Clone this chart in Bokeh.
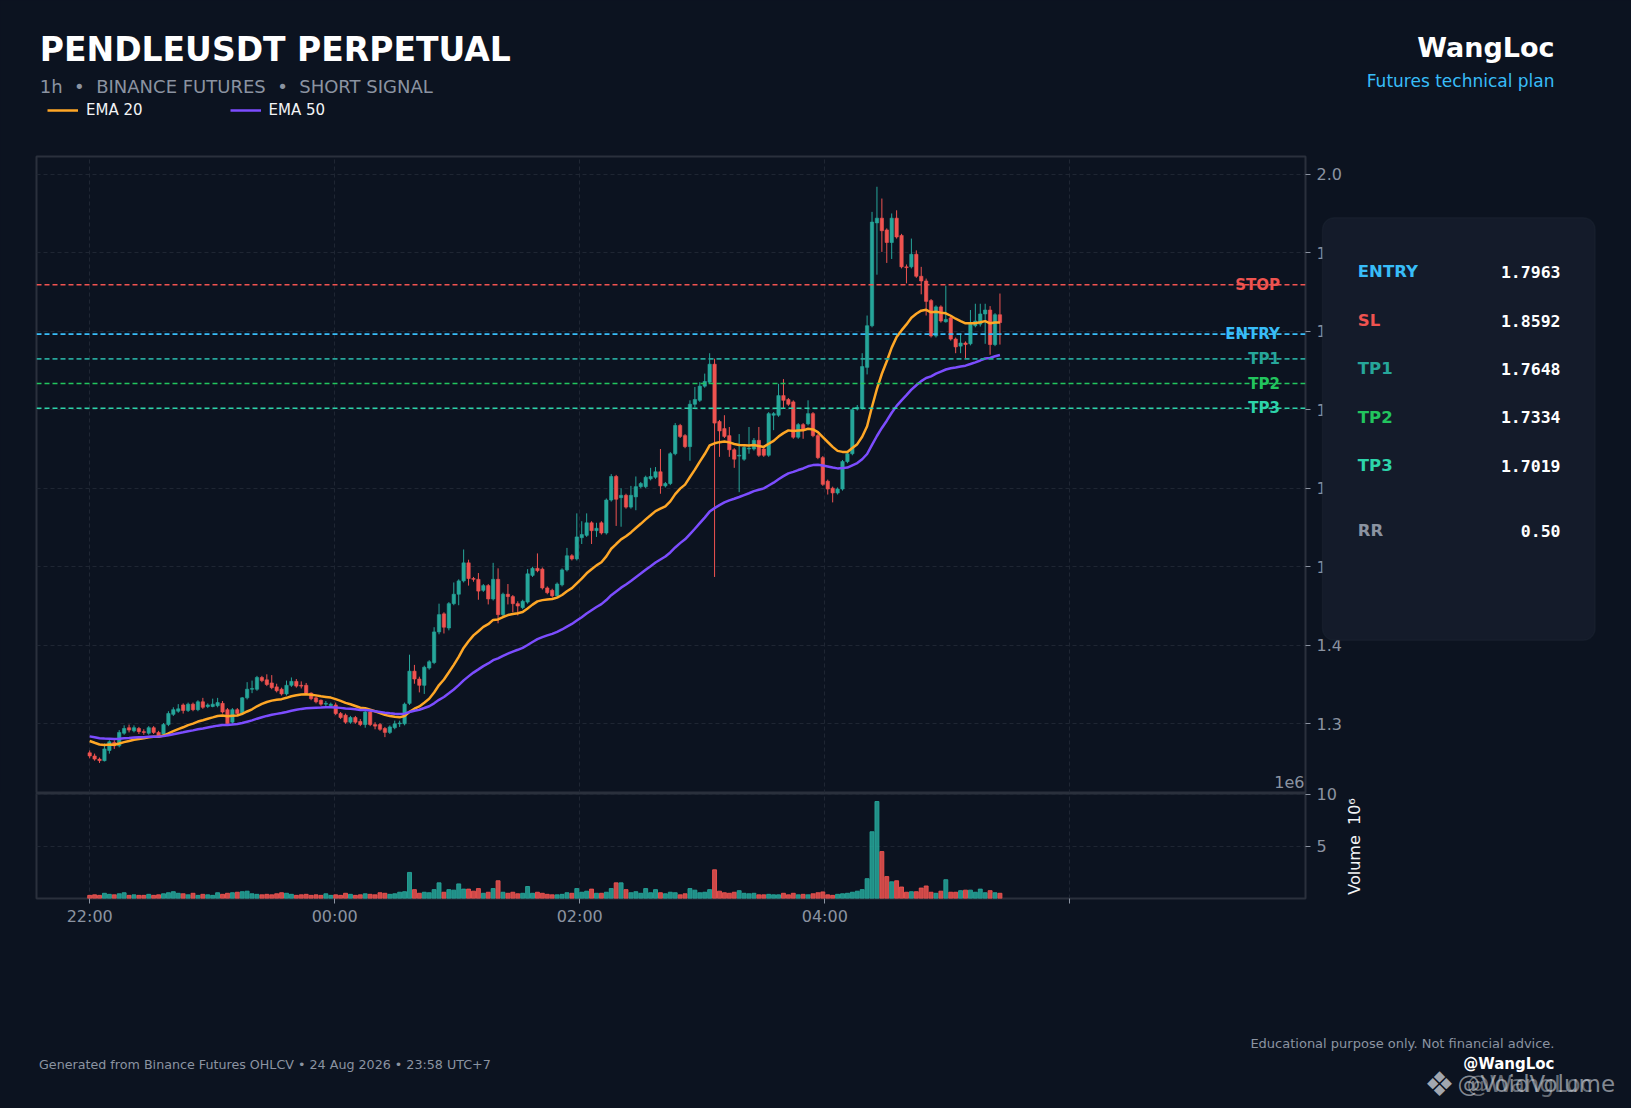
import numpy as np
from bokeh.plotting import figure
from bokeh.models import (ColumnDataSource, Range1d, FixedTicker, PrintfTickFormatter,
                          Span, Label, BoxAnnotation, Grid, Legend, LegendItem)
from bokeh.layouts import column
from bokeh.embed import file_html
from bokeh.resources import INLINE

# ---------------- data ----------------
open_ = [
    1.263,1.259,1.255,1.253,1.266,1.276,1.272,1.288,1.295,1.291,
    1.294,1.290,1.288,1.295,1.289,1.287,1.299,1.312,1.316,1.324,
    1.317,1.325,1.318,1.328,1.322,1.322,1.323,1.326,1.318,1.302,
    1.318,1.313,1.333,1.344,1.344,1.359,1.356,1.352,1.347,1.344,
    1.338,1.349,1.354,1.349,1.349,1.339,1.333,1.330,1.325,1.323,
    1.324,1.313,1.311,1.302,1.308,1.303,1.299,1.315,1.299,1.299,
    1.294,1.289,1.295,1.300,1.300,1.326,1.367,1.357,1.349,1.371,
    1.378,1.417,1.440,1.422,1.453,1.465,1.482,1.505,1.485,1.484,
    1.470,1.476,1.459,1.484,1.439,1.465,1.462,1.453,1.448,1.455,
    1.489,1.498,1.497,1.473,1.470,1.463,1.477,1.496,1.514,1.510,
    1.537,1.540,1.556,1.546,1.556,1.543,1.585,1.615,1.588,1.591,
    1.576,1.589,1.602,1.602,1.612,1.614,1.621,1.603,1.606,1.644,
    1.680,1.667,1.653,1.707,1.712,1.730,1.735,1.758,1.685,1.676,
    1.667,1.649,1.641,1.637,1.650,1.650,1.661,1.650,1.642,1.693,
    1.693,1.718,1.713,1.710,1.665,1.681,1.682,1.695,1.667,1.639,
    1.609,1.600,1.594,1.599,1.634,1.644,1.701,1.702,1.754,1.807,
    1.938,1.944,1.929,1.913,1.944,1.922,1.882,1.882,1.898,1.870,
    1.864,1.839,1.794,1.831,1.812,1.817,1.790,1.781,1.785,1.784,
    1.807,1.809,1.822,1.827,1.783,1.821]
high = [
    1.266,1.262,1.257,1.275,1.279,1.279,1.292,1.298,1.299,1.298,
    1.296,1.293,1.297,1.297,1.291,1.301,1.316,1.321,1.325,1.326,
    1.327,1.327,1.330,1.333,1.326,1.332,1.333,1.329,1.320,1.320,
    1.320,1.334,1.353,1.355,1.361,1.361,1.363,1.362,1.351,1.346,
    1.355,1.359,1.357,1.354,1.352,1.340,1.335,1.331,1.329,1.327,
    1.327,1.315,1.313,1.310,1.310,1.306,1.317,1.317,1.302,1.301,
    1.296,1.298,1.304,1.304,1.327,1.388,1.375,1.360,1.374,1.381,
    1.423,1.453,1.442,1.455,1.480,1.484,1.522,1.509,1.487,1.492,
    1.478,1.478,1.505,1.498,1.467,1.478,1.464,1.456,1.458,1.497,
    1.500,1.517,1.499,1.475,1.472,1.480,1.498,1.524,1.516,1.568,
    1.558,1.568,1.558,1.556,1.558,1.587,1.618,1.617,1.600,1.593,
    1.603,1.615,1.608,1.616,1.626,1.627,1.650,1.608,1.646,1.683,
    1.682,1.669,1.712,1.729,1.735,1.746,1.772,1.765,1.687,1.693,
    1.678,1.651,1.669,1.655,1.678,1.664,1.678,1.652,1.697,1.697,
    1.733,1.739,1.715,1.712,1.683,1.683,1.712,1.697,1.669,1.641,
    1.611,1.602,1.601,1.636,1.646,1.702,1.706,1.772,1.820,1.952,
    1.984,1.969,1.931,1.950,1.954,1.924,1.885,1.918,1.903,1.882,
    1.867,1.841,1.833,1.833,1.858,1.819,1.792,1.797,1.787,1.827,
    1.835,1.835,1.835,1.832,1.823,1.848]
low = [
    1.256,1.253,1.250,1.252,1.262,1.268,1.270,1.286,1.289,1.289,
    1.287,1.286,1.286,1.287,1.283,1.285,1.297,1.310,1.314,1.313,
    1.315,1.316,1.316,1.319,1.320,1.321,1.321,1.313,1.298,1.300,
    1.311,1.311,1.331,1.339,1.342,1.353,1.348,1.344,1.340,1.336,
    1.336,1.347,1.346,1.345,1.337,1.330,1.326,1.323,1.322,1.321,
    1.311,1.306,1.300,1.300,1.300,1.297,1.295,1.297,1.293,1.291,
    1.283,1.287,1.293,1.296,1.298,1.324,1.351,1.340,1.338,1.369,
    1.376,1.414,1.415,1.419,1.451,1.451,1.480,1.476,1.481,1.458,
    1.468,1.452,1.457,1.428,1.437,1.452,1.442,1.438,1.446,1.453,
    1.487,1.493,1.471,1.465,1.461,1.461,1.475,1.494,1.508,1.508,
    1.529,1.538,1.529,1.538,1.541,1.541,1.583,1.552,1.551,1.574,
    1.574,1.572,1.600,1.600,1.610,1.612,1.593,1.601,1.604,1.642,
    1.664,1.651,1.635,1.703,1.710,1.728,1.733,1.487,1.640,1.664,
    1.640,1.626,1.595,1.635,1.644,1.648,1.640,1.640,1.640,1.674,
    1.691,1.702,1.705,1.663,1.663,1.663,1.680,1.665,1.637,1.603,
    1.592,1.582,1.592,1.597,1.632,1.642,1.699,1.700,1.745,1.805,
    1.872,1.901,1.887,1.892,1.918,1.880,1.861,1.880,1.868,1.847,
    1.820,1.792,1.792,1.811,1.811,1.788,1.772,1.772,1.765,1.782,
    1.805,1.806,1.784,1.770,1.781,1.783]
close = [
    1.259,1.255,1.253,1.268,1.277,1.272,1.289,1.294,1.292,1.295,
    1.290,1.289,1.295,1.289,1.285,1.299,1.313,1.318,1.319,1.317,
    1.325,1.318,1.328,1.321,1.324,1.325,1.327,1.315,1.300,1.318,
    1.313,1.333,1.344,1.345,1.359,1.355,1.350,1.346,1.342,1.338,
    1.349,1.354,1.348,1.348,1.339,1.332,1.328,1.325,1.326,1.325,
    1.313,1.308,1.302,1.308,1.302,1.299,1.315,1.299,1.297,1.293,
    1.289,1.296,1.300,1.301,1.325,1.367,1.357,1.349,1.372,1.379,
    1.417,1.439,1.423,1.453,1.465,1.482,1.505,1.485,1.484,1.469,
    1.476,1.459,1.484,1.439,1.465,1.462,1.453,1.450,1.456,1.491,
    1.498,1.495,1.473,1.467,1.463,1.478,1.496,1.514,1.510,1.538,
    1.541,1.556,1.546,1.549,1.543,1.585,1.615,1.586,1.591,1.576,
    1.591,1.602,1.606,1.614,1.615,1.621,1.603,1.606,1.644,1.680,
    1.666,1.653,1.707,1.713,1.730,1.736,1.758,1.683,1.673,1.666,
    1.649,1.637,1.642,1.652,1.651,1.661,1.642,1.642,1.695,1.695,
    1.718,1.712,1.707,1.665,1.681,1.675,1.695,1.667,1.639,1.605,
    1.599,1.594,1.599,1.634,1.644,1.700,1.703,1.755,1.807,1.939,
    1.944,1.928,1.913,1.944,1.920,1.882,1.881,1.898,1.870,1.864,
    1.838,1.794,1.831,1.813,1.815,1.790,1.780,1.785,1.783,1.809,
    1.813,1.822,1.827,1.783,1.821,1.811]
volume_m = [
    0.30,0.35,0.30,0.50,0.40,0.35,0.45,0.55,0.30,0.35,
    0.30,0.30,0.40,0.30,0.35,0.45,0.55,0.65,0.50,0.45,
    0.35,0.50,0.30,0.40,0.35,0.30,0.55,0.40,0.50,0.55,
    0.60,0.65,0.70,0.45,0.40,0.35,0.40,0.35,0.45,0.55,
    0.50,0.40,0.30,0.35,0.40,0.30,0.35,0.30,0.45,0.30,
    0.35,0.30,0.50,0.40,0.30,0.35,0.45,0.40,0.35,0.55,
    0.50,0.40,0.45,0.60,0.65,2.50,0.85,0.50,0.60,0.55,
    0.85,1.50,0.60,0.85,0.80,1.40,0.90,0.90,0.70,0.95,
    0.50,0.60,0.95,1.70,0.60,0.50,0.60,0.45,0.50,1.15,
    0.50,0.60,0.50,0.40,0.35,0.35,0.40,0.55,0.50,0.95,
    0.60,0.70,0.90,0.50,0.50,0.60,0.95,1.50,1.50,0.85,
    0.55,0.65,0.50,0.95,0.55,0.85,0.55,0.45,0.60,0.55,
    0.35,0.45,0.95,0.80,0.55,0.60,0.85,2.75,0.70,0.55,
    0.50,0.60,0.75,0.50,0.45,0.50,0.35,0.35,0.40,0.35,
    0.35,0.50,0.35,0.50,0.35,0.40,0.35,0.45,0.55,0.63,
    0.35,0.30,0.40,0.45,0.50,0.60,0.70,0.85,1.90,6.40,
    9.30,4.50,2.10,1.60,1.70,1.10,0.60,0.65,0.65,1.00,
    1.20,0.60,0.50,0.70,1.80,0.60,0.60,0.75,0.80,0.80,
    0.60,0.90,0.55,0.75,0.55,0.50]

ema20_seed = 1.280   # EMA values just before the first visible candle
ema50_seed = 1.285

time_ticks = [0, 49.8, 99.6, 149.4, 199.2]
time_labels = ["22:00", "00:00", "02:00", "04:00", ""]
price_ticks = [1.3, 1.4, 1.5, 1.6, 1.7, 1.8, 1.9, 2.0]
vol_ticks = [5, 10]

line_names = ["STOP", "ENTRY", "TP1", "TP2", "TP3"]
line_values = [1.8592, 1.7963, 1.7648, 1.7334, 1.7019]
panel_names = ["ENTRY", "SL", "TP1", "TP2", "TP3"]
panel_values = [1.7963, 1.8592, 1.7648, 1.7334, 1.7019]
rr_value = 0.50
legend_labels = ["EMA 20", "EMA 50"]

NB = "\u00a0"
symbol = "PENDLEUSDT PERPETUAL"
subtitle = f"1h{NB} \u2022 {NB}BINANCE FUTURES{NB} \u2022 {NB}SHORT SIGNAL"
vol_label = f"Volume{NB} 10\u2076"

# ---------------- styles ----------------
BG = "#0c1320"
FRAME = "#2a303c"
GRID = "#1f2633"
GRAY = "#8b93a1"
WHITE = "#f3f4f6"
UP = "#26a69a"
DOWN = "#ef5350"
EMA20C = "#ffa726"
EMA50C = "#7c4dff"
FONT = "DejaVu Sans"
MONO = "DejaVu Sans Mono"
LINE_COLORS = {"STOP": "#ef5350", "SL": "#ef5350", "ENTRY": "#38bdf8",
               "TP1": "#26a69a", "TP2": "#22c55e", "TP3": "#2dd4aa"}

n = min(len(open_), len(high), len(low), len(close), len(volume_m))
o = np.array(open_[:n]); c = np.array(close[:n])
idx = np.arange(n)
colors = [UP if c[i] >= o[i] else DOWN for i in range(n)]


def ema(vals, span, seed):
    a = 2.0 / (span + 1)
    out, prev = [], seed
    for val in vals:
        prev = prev + a * (val - prev)
        out.append(prev)
    return out


ema20 = ema(c, 20, ema20_seed)
ema50 = ema(c, 50, ema50_seed)

src = ColumnDataSource(dict(x=idx, high=high[:n], low=low[:n], top=np.maximum(o, c),
                            bottom=np.minimum(o, c), color=colors, vol=volume_m[:n]))

W, H = 1631, 1108
XR = Range1d(-10.81, 247.1)


def style_axis(ax):
    ax.axis_line_color = None
    ax.major_tick_line_color = GRAY
    ax.major_tick_out = 5
    ax.major_tick_in = 0
    ax.minor_tick_line_color = None
    ax.major_label_text_color = GRAY
    ax.major_label_text_font = FONT
    ax.major_label_text_font_size = "16px"


# ---------------- price figure ----------------
p = figure(width=W, height=793, x_range=XR, y_range=Range1d(1.2112, 2.02255),
           x_axis_location=None, y_axis_location="right",
           output_backend="svg", toolbar_location=None,
           min_border_left=36, min_border_right=326, min_border_top=156, min_border_bottom=0,
           background_fill_color=BG, border_fill_color=BG,
           outline_line_color=FRAME, outline_line_width=2)
p.yaxis.ticker = FixedTicker(ticks=price_ticks)
p.yaxis.formatter = PrintfTickFormatter(format="%.1f")
style_axis(p.yaxis)
p.yaxis.major_label_standoff = 6
p.ygrid.grid_line_color = GRID
p.ygrid.grid_line_dash = "4 3"
p.xgrid.visible = False
p.add_layout(Grid(dimension=0, ticker=FixedTicker(ticks=time_ticks),
                  grid_line_color=GRID, grid_line_dash="4 3"))

p.segment(x0="x", y0="low", x1="x", y1="high", line_color="color", line_width=1, source=src)
p.vbar(x="x", width=0.68, top="top", bottom="bottom", fill_color="color",
       line_color="color", line_width=0.6, source=src)
p.line(idx, ema20, line_color=EMA20C, line_width=2.5)
p.line(idx, ema50, line_color=EMA50C, line_width=2.5)

for name, val in zip(line_names, line_values):
    col = LINE_COLORS[name]
    p.add_layout(Span(location=val, dimension="width", line_color=col,
                      line_dash="5 3", line_width=1.6))
    p.add_layout(Label(x=241.9, y=val, text=name, text_align="right", text_baseline="middle",
                       text_font=FONT, text_font_style="bold", text_font_size="15px",
                       text_color=col))

# ---------------- volume figure ----------------
v = figure(width=W, height=327, x_range=XR, y_range=Range1d(0, 10.07),
           y_axis_location="right", output_backend="svg", toolbar_location=None,
           min_border_left=36, min_border_right=326, min_border_top=12, min_border_bottom=210,
           background_fill_color=BG, border_fill_color=BG, border_fill_alpha=0,
           outline_line_color=FRAME, outline_line_width=2, margin=(-12, 0, 0, 0))
v.vbar(x="x", width=0.8, top="vol", bottom=0, fill_color="color", line_color="color",
       fill_alpha=0.85, line_alpha=0.9, source=src)
v.xaxis.ticker = FixedTicker(ticks=time_ticks)
v.xaxis.major_label_overrides = dict(zip(time_ticks, time_labels))
style_axis(v.xaxis)
v.xaxis.major_label_standoff = 3
v.yaxis.ticker = FixedTicker(ticks=vol_ticks)
v.yaxis.formatter = PrintfTickFormatter(format="%d")
style_axis(v.yaxis)
v.yaxis.major_label_standoff = 6
for g in (v.xgrid, v.ygrid):
    g.grid_line_color = GRID
    g.grid_line_dash = "4 3"

# ---------------- transparent overlay for page texts and the info card ----------------
ov = figure(width=W, height=H, x_range=Range1d(0, W), y_range=Range1d(H, 0),
            x_axis_location=None, y_axis_location=None,
            output_backend="svg", toolbar_location=None,
            min_border=0, min_border_left=0, min_border_right=0, min_border_top=0,
            min_border_bottom=0, outline_line_color=None,
            background_fill_alpha=0, border_fill_alpha=0, margin=(-H, 0, 0, 0))
if "frame_align" in ov.properties():
    ov.frame_align = False
ov.grid.visible = False


def lab(x, y, text, size, color, bold=False, align="left", baseline="middle",
        font=FONT, angle=0.0, alpha=1.0):
    ov.add_layout(Label(x=x, y=y, text=text, text_font=font, text_font_size=f"{size}px",
                        text_color=color, text_font_style="bold" if bold else "normal",
                        text_align=align, text_baseline=baseline, angle=angle,
                        text_alpha=alpha))


# header
lab(39.3, 48.5, symbol, 33, "#ffffff", bold=True)
lab(39.3, 86, subtitle, 18, GRAY)
lab(1554, 47, "WangLoc", 27, "#ffffff", bold=True, align="right")
lab(1554, 80, "Futures technical plan", 17, "#38bdf8", align="right")
lab(1304, 781, "1e6", 16, GRAY, align="right")
lab(1354, 846, vol_label, 16, WHITE, align="center", angle=np.pi / 2)

# legend of the two EMA lines (swatches share the line styles; no data of their own)
sw20 = ov.line([np.nan, np.nan], [np.nan, np.nan], line_color=EMA20C, line_width=2.5)
sw50 = ov.line([np.nan, np.nan], [np.nan, np.nan], line_color=EMA50C, line_width=2.5)
leg = Legend(items=[LegendItem(label=legend_labels[0], renderers=[sw20]),
                    LegendItem(label=legend_labels[1], renderers=[sw50])],
             orientation="horizontal", location=(47, H - 103 - 16),
             background_fill_alpha=0, border_line_color=None,
             label_text_color=WHITE, label_text_font=FONT, label_text_font_size="15px",
             glyph_width=31, glyph_height=16, label_height=16, label_standoff=8,
             spacing=87, padding=0, margin=0)
ov.add_layout(leg, "center")

# info card
ov.add_layout(BoxAnnotation(left=1322, right=1594.6, top=217.3, bottom=639.7,
                            fill_color="#141b2a", fill_alpha=1.0,
                            line_color="#262e3d", line_width=1.5, border_radius=12))
rows_y = [271, 320, 368.3, 416.7, 465]
for name, val, yy in zip(panel_names, panel_values, rows_y):
    lab(1357.3, yy, name, 16.5, LINE_COLORS[name], bold=True)
    lab(1560, yy, f"{val:.4f}", 16.5, "#ffffff", bold=True, align="right", font=MONO)
lab(1357.3, 530, "RR", 16.5, GRAY, bold=True)
lab(1560, 530, f"{rr_value:.2f}", 16.5, "#ffffff", bold=True, align="right", font=MONO)

# footer
lab(38.5, 1064, "Generated from Binance Futures OHLCV \u2022 24 Aug 2026 \u2022 23:58 UTC+7", 12.7, GRAY)
lab(1554, 1042.7, "Educational purpose only. Not financial advice.", 13, GRAY, align="right")
lab(1554, 1063, "@WangLoc", 15, "#ffffff", bold=True, align="right")
lab(1439, 1083, "\u2756", 34, "#d5d9df", align="center", alpha=0.75)
lab(1457, 1083, "@VoidVolume", 23, "#d5d9df", alpha=0.6)
lab(1466, 1083, "@WangLoc", 23, "#d5d9df", alpha=0.45)

layout = column(p, v, ov, spacing=0)
html = file_html(layout, INLINE, title="PENDLEUSDT PERPETUAL")
html = html.replace("</head>", f"<style>html,body{{background:{BG};}}</style></head>", 1)
open("out.html", "w").write(html)
